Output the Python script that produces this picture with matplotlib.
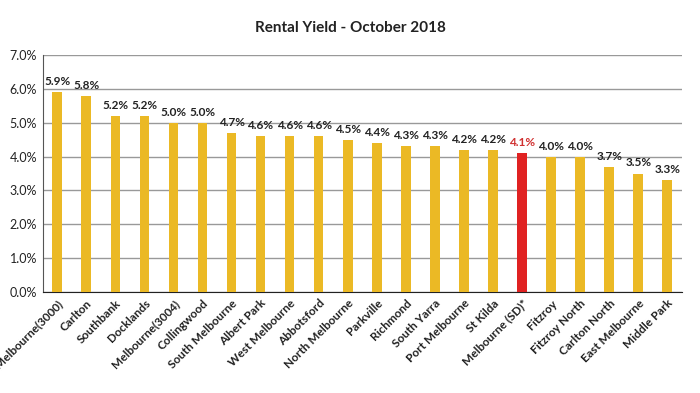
import matplotlib.pyplot as plt
import numpy as np

suburbs = ['Melbourne(3000)', 'Carlton', 'Southbank', 'Docklands', 'Melbourne(3004)',
           'Collingwood', 'South Melbourne', 'Albert Park', 'West Melbourne', 'Abbotsford',
           'North Melbourne', 'Parkville', 'Richmond', 'South Yarra', 'Port Melbourne',
           'St Kilda', 'Melbourne (SD)*', 'Fitzroy', 'Fitzroy North', 'Carlton North',
           'East Melbourne', 'Middle Park']
yields = [5.9, 5.8, 5.2, 5.2, 5.0, 5.0, 4.7, 4.6, 4.6, 4.6, 4.5, 4.4, 4.3, 4.3, 4.2,
          4.2, 4.1, 4.0, 4.0, 3.7, 3.5, 3.3]
highlight = 'Melbourne (SD)*'

plt.rcParams['font.family'] = ['Lato', 'DejaVu Sans']

fig = plt.figure(figsize=(7, 3.93), dpi=100)
ax = fig.add_axes([0.061, 0.257, 0.913, 0.603])

x = np.arange(len(suburbs))
colors = ['#e02222' if s == highlight else '#ebb925' for s in suburbs]
ax.bar(x, yields, width=0.33, color=colors, zorder=3)

for xi, v, s in zip(x, yields, suburbs):
    c = '#d03030' if s == highlight else '#222222'
    ax.text(xi, v + 0.15, f'{v:.1f}%', ha='center', va='bottom', fontsize=8.5,
            fontweight='bold', color=c)

ax.set_xlim(-0.5, len(suburbs) - 0.5)
ax.set_ylim(0, 7)
ax.set_yticks(np.arange(0, 7.1, 1))
ax.set_yticklabels([f'{t:.1f}%' for t in np.arange(0, 7.1, 1)], fontsize=9, color='#222222')
ax.set_xticks(x)
ax.set_xticklabels(suburbs, rotation=45, ha='right', rotation_mode='anchor',
                   fontsize=8.5, fontweight='bold', color='#222222')
ax.tick_params(axis='x', length=0, pad=4)
ax.tick_params(axis='y', length=0, pad=4)
ax.yaxis.grid(True, color='#999999', linewidth=1, zorder=0)
for side in ['top', 'right']:
    ax.spines[side].set_visible(False)
ax.spines['left'].set_color('#555555')
ax.spines['bottom'].set_color('#222222')

fig.text(0.5, 0.93, 'Rental Yield - October 2018', ha='center', va='center',
         fontsize=11, fontweight='bold', color='#222222')

fig.savefig('out.png', dpi=100)
